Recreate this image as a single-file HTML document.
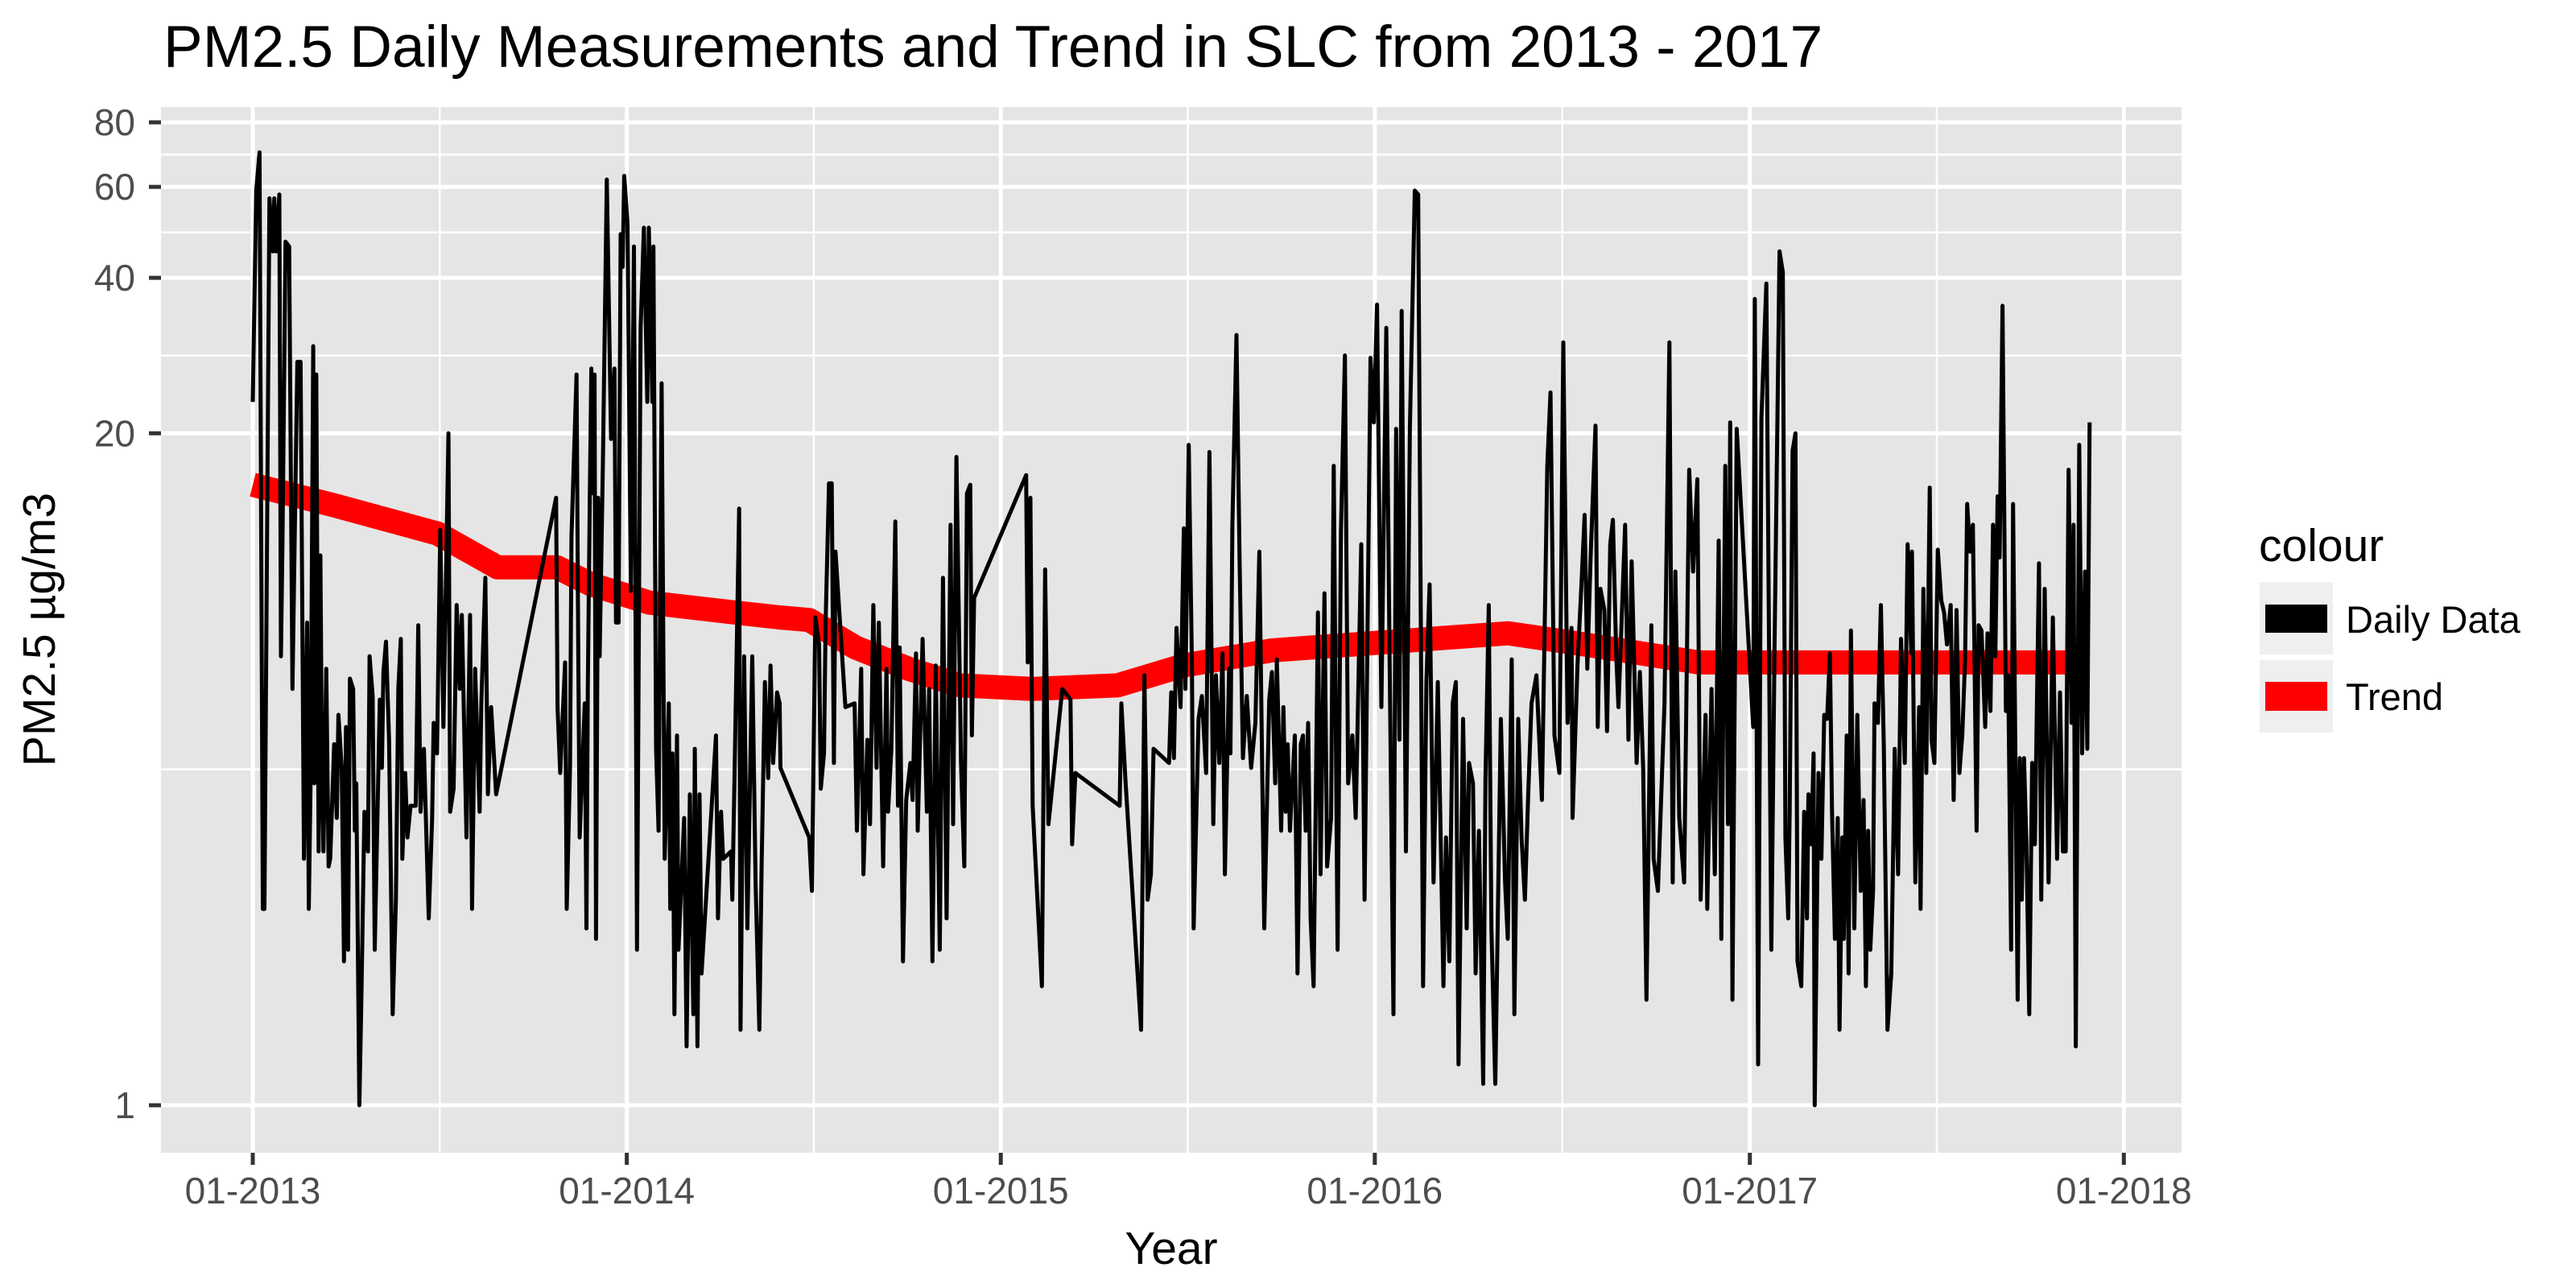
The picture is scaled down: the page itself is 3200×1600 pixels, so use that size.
<!DOCTYPE html>
<html><head><meta charset="utf-8">
<style>
html,body{margin:0;padding:0;background:#fff;}
svg{display:block;font-family:"Liberation Sans",Arial,sans-serif;}
</style></head>
<body>
<svg id="chart" width="3200" height="1600" viewBox="0 0 3200 1600" xmlns="http://www.w3.org/2000/svg">
<defs><clipPath id="pclip"><rect x="200" y="133" width="2510" height="1299"/></clipPath></defs>
<rect x="200" y="133" width="2510" height="1299" fill="#e5e5e5"/>
<g id="grid"></g>
<g id="series" clip-path="url(#pclip)"></g>
<g id="axes"></g>
<text x="203" y="83" font-size="73" fill="#000">PM2.5 Daily Measurements and Trend in SLC from 2013 - 2017</text>
<text x="1455" y="1570" font-size="57" text-anchor="middle" fill="#000">Year</text>
<text transform="translate(68,782) rotate(-90)" font-size="57" text-anchor="middle" fill="#000">PM2.5 µg/m3</text>
<g>
<text x="2806" y="697" font-size="57" fill="#000">colour</text>
<g>
<rect x="2807" y="723" width="91" height="90" fill="#efefef"/>
<rect x="2814" y="751" width="77" height="35" fill="#000"/>
<text x="2914" y="786" font-size="47" fill="#000">Daily Data</text>
</g>
<g>
<rect x="2807" y="820" width="91" height="90" fill="#efefef"/>
<rect x="2814" y="847" width="77" height="36" fill="#ff0000"/>
<text x="2914" y="882" font-size="47" fill="#000">Trend</text>
</g>
</g>
</svg>
<script>
// ---- data (days since 2013-01-01, PM2.5 values) ----
const dailyDays = [0,3.4,6.6,9.8,11.4,16.3,19.5,21,22.7,25.9,27.5,29,32,35.5,38.7,42,43.5,46.7,48.3,50,53,54.7,56.3,59,60,62,64.3,66,67.5,69,71.7,74,75.6,79.4,82,83.6,86.8,89,91,93,94.8,98,99.6,101,104,106,109,112.4,114,117,119,122,124,126,127.5,130,133,136.5,139.7,142,144.5,146,148.7,151,154,159,161.5,163.7,167,171.7,175,176.5,179.8,183,186,191,192.6,196,199,202,204,208.6,212,214,217,221.4,223,227,229.5,232.6,237.5,296,297.4,300,304.8,306.4,309.6,311,316,317.6,319,324,325.6,327,329,330.4,332,333.6,335,337,338.5,341.7,345.5,349.7,353,354.5,357,359,361,362.5,365.7,369,372,375,378.5,381.7,385,386.5,390,391,393.6,396,399,402,406,407.4,409.6,411.5,414,415.4,421,423.4,426.6,430,431.4,434,436,438,452,454,457,459,466.7,468,470,474.7,476,479.5,482.7,487.5,490.7,
494.4,496.6,499.8,503,505.3,507.8,511.7,514.2,515,543,545.7,549,552.7,554.3,557.5,559,562.3,565,567.1,568.7,573.6,578.4,587.3,589.6,593.8,596,599.8,602.4,605.6,608.8,611,615.2,618.4,620,623.2,627.1,629.7,631.3,634.5,637.7,641.8,644,647.3,648.9,653.7,657.9,660.1,663.3,666.5,670.4,673.6,677.1,681,683.5,686.7,691.2,694.4,697,700.2,701.8,704,754.7,756.3,758.9,761.1,770.1,773.3,776.5,790,798,799.6,802.8,846,847.7,851.5,866.9,870.1,873.3,876.5,879.1,894.2,896.4,899,901.5,905.4,908.6,910.2,913.4,916.6,918.2,923,926.2,930.4,933.6,937.4,940,943.2,946.4,948.7,952.8,954.1,956,960,963,966.3,970.1,974.3,978.5,982.3,987.1,992,
994.6,997.8,999.4,1003.6,1005.8,1008,1010,1012.2,1017,1019.6,1022.8,1025,1027.6,1029.9,1032.4,1035.3,1039.5,1042,1045.9,1048.5,1052.3,1054.9,1058.7,1062,1065.8,1069,1073.1,1076.4,1081.8,1085,1090.8,1094,1097.2,1101.4,1106.2,1109.4,1113.2,1115.8,1119,1121.2,1125.4,1129.2,1134,1137.3,1142.1,1145.3,1148.5,1152.3,1156.5,1162,1164.5,1167.7,1171,1174.1,1176.7,1181.2,1184.7,1187,1190.8,1193.4,1196.6,1200.8,1203,1206.2,1208.8,1212.6,1218,1222.2,1224.8,1228.6,1231.2,1235,1238.2,1241.5,1244.7,1247.9,1252.7,1258.1,1263.3,1266.5,1270.3,1275.1,1279,1283.1,1287,1288,1292.8,1296.6,1299.8,1302.4,1305.6,1310.4,1312.6,1315.2,1319,1321.6,1324.8,1327.4,1330.6,1332.8,1339.3,1342.5,1345.7,1350.5,1353.7,1356.9,1360.1,1364.9,1367.1,1371.3,1377.7,1382.5,1385.7,1388.3,1392.1,1396.9,1401.8,1405.6,1409.8,1413,1417.8,1419.4,1423.6,1426.8,1430.6,1433.2,1437,1439.6,1441.8,1444,1448.2,1464.3,1465.9,1469.1,1472.3,1477.1,1482,1485.1,1490,1493.2,
1495.7,1498.5,1499.9,1502.7,1505.5,1507.5,1511.2,1514,1516.8,1518.2,1521,1523.2,1524.3,1528,1530.8,1533.6,1536.4,1539.2,1541.2,1544,1546.8,1548.5,1551.3,1552.7,1555.5,1557.4,1559.7,1563,1565.9,1569.2,1572,1574.3,1576.5,1578.5,1581.3,1582.7,1586,1588.9,1591.7,1595.3,1599,1602.4,1605.7,1608.5,1612.2,1615,1618.6,1619.2,1622.5,1626.2,1627.6,1630.4,1633.2,1636.6,1638.3,1641.1,1644.4,1647.8,1650.6,1653.4,1657,1659.9,1662.7,1665.5,1668.3,1671.1,1673.1,1675.9,1678.7,1682.3,1684.3,1687.1,1690.7,1693,1695.8,1698.3,1700.6,1702.8,1704.8,1707.6,1710.9,1713.2,1716,1717.9,1722.4,1724.4,1726.4,1728.6,1730.9,1733.7,1736.5,1739.2,1743.2,1745.4,1748.8,1752.5,1756.7,1760.9,1763.7,1766.5,1769.3,1772.1,1774.9,1776.9,1779.1,1782.5,1785.3,1788.1,1790.3,1792.6];
const dailyValues = [23,59,70,2.4,2.4,57,45,57,45,58,7.4,12.3,47,46,6.4,17.7,27.5,27.5,9.1,3.0,8.6,2.4,4.1,29.5,4.2,26,3.1,11.6,4.5,3.1,7,2.9,3.0,5.0,3.6,5.7,4.5,1.9,5.4,2.0,6.7,6.4,3.4,4.2,1.0,1.6,3.7,3.1,7.4,6.2,2.0,3.9,6.1,4.5,6.9,7.9,5.1,1.5,2.5,6.4,8.0,3.0,4.4,3.3,3.8,3.8,8.5,3.7,4.9,2.3,3.6,5.5,4.8,13,5.4,20,3.7,4.1,9.3,6.4,8.9,3.3,8.9,2.4,7,3.7,6,10.5,4,5.9,4,15,5.9,4.4,7.2,2.4,4.5,12.6,26,7.7,3.3,6,2.2,6.4,15.7,26.7,15.3,26,2.1,15,7.4,17.3,62,19.5,26.7,8.6,8.6,48.6,42,63,51,9.9,46,2.0,32,50,23,50,23,46,4.9,3.4,25,3.0,6,2.4,4.8,1.5,5.2,2.0,3.6,1.3,4,1.5,4.9,1.3,4,1.8,5.2,2.3,3.7,3.0,3.1,2.5,4.2,14.3,1.4,7.4,2.2,7.4,2.7,
1.4,2.9,6.6,4.3,7.1,4.6,6.3,6.0,4.5,3.3,2.6,8.8,7.8,4.1,4.8,8.6,16,16,4.6,11.8,8.3,5.9,6.0,3.4,7,2.8,5.1,3.5,9.3,4.5,8.6,2.9,7,3.7,4.9,13.5,3.8,7.7,1.9,3.9,4.6,3.9,7.5,3.4,8,3.7,6.4,1.9,7.1,2.0,10.5,2.3,13.3,3.5,18,4.6,2.9,15.3,15.9,5.2,9.6,16.6,7.2,15,3.8,1.7,10.9,3.5,6.4,6.1,3.2,4.4,3.8,6,4.3,1.4,6.8,2.5,2.8,4.9,4.6,6.3,4.7,8.4,5.9,13.1,6.4,19,7,2.2,5.6,6.2,4.4,18.4,3.5,6.8,4.6,7.5,2.8,7,4.8,13.3,31,11.5,4.7,6.2,4.5,5.5,11.8,2.2,6.1,
6.9,4.2,7.3,3.4,5.9,3.7,5,3.4,5.2,1.8,5,5.2,3.4,5.5,2.3,1.7,9,2.8,9.8,2.9,3.6,17.3,2.0,13,28.3,4.2,5.2,3.6,12.2,2.5,28,21,35.5,5.9,32,7.4,1.5,20.4,5.1,34.5,3.1,20.4,59,58,1.7,6.6,10.2,2.7,6.6,1.7,3.3,1.9,6,6.6,1.2,5.6,2.2,4.6,4.2,1.8,3.4,1.1,4.3,9.3,2.2,1.1,5.6,2.7,2.1,7.3,1.5,5.6,3.3,2.5,4.0,6,6.8,3.9,17.3,24,5.2,4.4,30,5.5,8.4,3.6,7.1,10.1,13.9,7,11.5,20.7,5.4,10,9.1,5.3,12.2,13.6,7.5,5.9,13.3,5.1,11.3,4.6,6.9,4.5,1.6,8.5,3.0,2.6,6,30,2.7,10.8,3.6,2.7,17,10.8,16.3,2.5,5.7,2.4,6.4,2.8,12.4,2.1,17.3,3.5,21,1.6,20.4,5.4,36.4,1.2,21.4,39,2.0,7.7,45,41,
3.3,2.3,3.7,18.5,20,1.9,1.7,3.7,2.3,4,3.2,4.8,1.0,4.4,3.0,5.7,5.6,7.5,3.7,2.1,3.6,1.4,3.3,2.1,5.2,1.8,8.3,2.2,5.7,2.6,3.9,1.7,3.4,2.0,2.6,6,5.5,9.3,5,1.4,1.8,4.9,2.8,8,4.6,12.2,7.5,11.8,2.7,5.9,2.4,10,4.4,15.7,5.1,4.6,11.9,9.5,9,7.8,9.3,3.9,9.1,4.4,5.2,7.3,14.6,11.8,13.3,3.4,8.5,8.3,5.4,8.2,5.8,13.3,7.4,15.1,11.5,35.3,5.8,6.8,2.0,14.6,1.6,4.7,2.5,4.7,3.2,1.5,4.6,3.2,11.2,2.5,10,2.7,8.8,3.0,6.3,3.1,3.1,17,5.5,13.3,1.3,19,4.8,10.8,4.9,21];
const trendDays = [0,80,180,239,297,330,387,470,514,543,588,640,690,761,844,908,995,1225,1300,1411,1775];
const trendValues = [15.9,14.5,12.8,11.0,11.0,10.2,9.4,9.0,8.8,8.7,7.7,7.0,6.5,6.4,6.5,7.1,7.6,8.2,7.8,7.2,7.2];
const yMajorTicks = [1,20,40,60,80];
const xTickLabels = ["01-2013","01-2014","01-2015","01-2016","01-2017","01-2018"];
const xTickDays = [0,365,730,1095,1461,1826];

// ---- scales ----
const X0 = 314, PX_PER_DAY = 1.2729;
const Y1 = 1373, PX_PER_DECADE = 641.6;
function xs(d){ return X0 + d*PX_PER_DAY; }
function ys(v){ return Y1 - Math.log10(v)*PX_PER_DECADE; }
const NS = "http://www.w3.org/2000/svg";
function mk(tag, attrs, parent){ const e=document.createElementNS(NS,tag); for(const k in attrs) e.setAttribute(k,attrs[k]); parent.appendChild(e); return e; }

const grid = document.getElementById('grid');
const axes = document.getElementById('axes');
const series = document.getElementById('series');

for(let i=0;i<yMajorTicks.length-1;i++){
  const m = Math.sqrt(yMajorTicks[i]*yMajorTicks[i+1]);
  const l = mk('line',{x1:200,x2:2710,y1:ys(m),y2:ys(m),stroke:'#fff','stroke-width':2.5},grid);
  
  
}
for(let i=0;i<xTickDays.length-1;i++){
  const m = (xTickDays[i]+xTickDays[i+1])/2;
  const l = mk('line',{x1:xs(m),x2:xs(m),y1:133,y2:1432,stroke:'#fff','stroke-width':2.5},grid);
  
  
}
yMajorTicks.forEach(v=>{
  const y = ys(v);
  const l = mk('line',{x1:200,x2:2710,y1:y,y2:y,stroke:'#fff','stroke-width':5},grid);
  
  
  const t = mk('line',{x1:185,x2:200,y1:y,y2:y,stroke:'#333','stroke-width':5},axes);
  
  
  const tx = mk('text',{x:168,y:y+16,'font-size':46,'text-anchor':'end',fill:'#4d4d4d'},axes);
  tx.textContent = String(v);
  
  
});
xTickDays.forEach((d,i)=>{
  const x = xs(d);
  const l = mk('line',{x1:x,x2:x,y1:133,y2:1432,stroke:'#fff','stroke-width':5},grid);
  
  
  const t = mk('line',{x1:x,x2:x,y1:1432,y2:1447,stroke:'#333','stroke-width':5},axes);
  
  
  const tx = mk('text',{x:x,y:1495,'font-size':46,'text-anchor':'middle',fill:'#4d4d4d'},axes);
  tx.textContent = xTickLabels[i];
  
  
});

let tPath = '';
trendDays.forEach((d,i)=>{ tPath += (i?'L':'M') + xs(d).toFixed(1) + ',' + ys(trendValues[i]).toFixed(1); });
const trend = mk('path',{d:tPath,fill:'none',stroke:'#ff0000','stroke-width':30,'stroke-linejoin':'round'},series);



let dPath = '';
dailyDays.forEach((d,i)=>{ dPath += (i?'L':'M') + xs(d).toFixed(1) + ',' + ys(dailyValues[i]).toFixed(1); });
const daily = mk('path',{d:dPath,fill:'none',stroke:'#000','stroke-width':5,'stroke-linejoin':'round'},series);


</script>
</body></html>
